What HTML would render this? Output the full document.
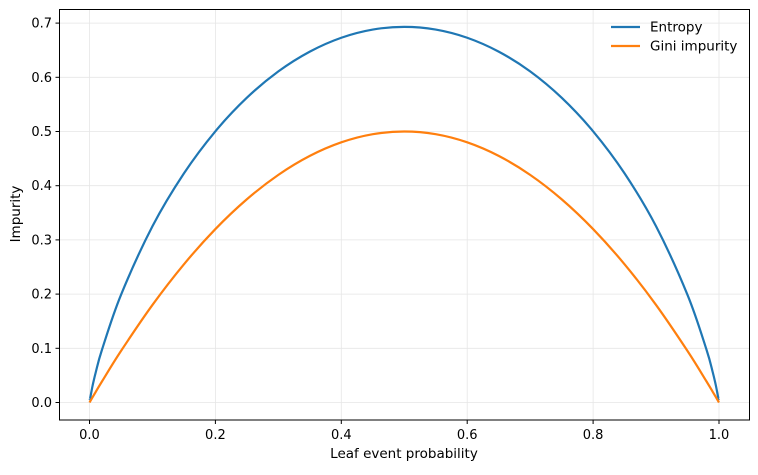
<!DOCTYPE html>
<html><head><meta charset="utf-8"><style>
body{margin:0;background:#fff;font-family:"Liberation Sans","DejaVu Sans",sans-serif;}
svg text{font-family:"DejaVu Sans","Liberation Sans",sans-serif;fill:#000}
</style></head><body>
<svg id="chart" width="758" height="470" xmlns="http://www.w3.org/2000/svg">
<g id="grid"></g>
<g id="series"></g>
<rect x="59.5" y="9.5" width="690" height="410.5" fill="none" stroke="#000" stroke-width="1"/>
<g id="ticks"></g>
<text x="404" y="458" font-size="13.5" text-anchor="middle">Leaf event probability</text>
<text transform="translate(20,214) rotate(-90)" font-size="13.5" text-anchor="middle">Impurity</text>
<g>
<line x1="611" y1="27" x2="640" y2="27" stroke="#1f77b4" stroke-width="2.2"/>
<text x="650" y="31.5" font-size="13.5">Entropy</text>
<line x1="611" y1="46" x2="640" y2="46" stroke="#ff7f0e" stroke-width="2.2"/>
<text x="650" y="50.5" font-size="13.5">Gini impurity</text>
</g>
</svg>
<script>
const probs=[0,0.001,0.005,0.01,0.02,0.05,0.1,0.15,0.2,0.25,0.3,0.35,0.4,0.45,0.5,0.55,0.6,0.65,0.7,0.75,0.8,0.85,0.9,0.95,0.98,0.99,0.995,0.999,1];
const entropy=[0.0079,0.0079,0.0315,0.056,0.098,0.1985,0.3251,0.4227,0.5004,0.5623,0.6109,0.6474,0.673,0.6881,0.6931,0.6881,0.673,0.6474,0.6109,0.5623,0.5004,0.4227,0.3251,0.1985,0.098,0.056,0.0315,0.0079,0.0079];
const gini=[0,0.002,0.00995,0.0198,0.0392,0.095,0.18,0.255,0.32,0.375,0.42,0.455,0.48,0.495,0.5,0.495,0.48,0.455,0.42,0.375,0.32,0.255,0.18,0.095,0.0392,0.0198,0.00995,0.002,0];
const xTicks=[0,0.2,0.4,0.6,0.8,1.0];
const xTickLabels=["0.0","0.2","0.4","0.6","0.8","1.0"];
const yTicks=[0,0.1,0.2,0.3,0.4,0.5,0.6,0.7];
const yTickLabels=["0.0","0.1","0.2","0.3","0.4","0.5","0.6","0.7"];
const NS="http://www.w3.org/2000/svg";
const X=v=>89.5+v*629.5, Y=v=>402.5-v*542;
function mk(t,a,p){const e=document.createElementNS(NS,t);for(const k in a)e.setAttribute(k,a[k]);p.appendChild(e);return e;}
const g=document.getElementById('grid'),tk=document.getElementById('ticks'),s=document.getElementById('series');
xTicks.forEach((v,i)=>{
 const l=mk('line',{x1:X(v),x2:X(v),y1:9.5,y2:420,stroke:'#e6e6e6','stroke-width':0.8},g);
 
 
 const t=mk('line',{x1:X(v),x2:X(v),y1:420,y2:424,stroke:'#000'},tk);
 
 
 const tx=mk('text',{x:X(v),y:439,'font-size':13,'text-anchor':'middle'},tk);tx.textContent=xTickLabels[i];
 
 
});
yTicks.forEach((v,i)=>{
 const l=mk('line',{x1:59.5,x2:749.5,y1:Y(v),y2:Y(v),stroke:'#e6e6e6','stroke-width':0.8},g);
 
 
 const t=mk('line',{x1:55.5,x2:59.5,y1:Y(v),y2:Y(v),stroke:'#000'},tk);
 
 
 const tx=mk('text',{x:52,y:Y(v)+4.5,'font-size':13,'text-anchor':'end'},tk);tx.textContent=yTickLabels[i];
 
 
});
function path(vals){
 const p=probs.map((x,i)=>[X(x),Y(vals[i])]);
 let d='M'+p[0][0]+','+p[0][1];
 for(let i=0;i<p.length-1;i++){
  const p0=p[Math.max(0,i-1)],p1=p[i],p2=p[i+1],p3=p[Math.min(p.length-1,i+2)];
  const c1=[p1[0]+(p2[0]-p0[0])/6,p1[1]+(p2[1]-p0[1])/6],c2=[p2[0]-(p3[0]-p1[0])/6,p2[1]-(p3[1]-p1[1])/6];
  d+=` C${c1[0]},${c1[1]} ${c2[0]},${c2[1]} ${p2[0]},${p2[1]}`;
 }
 return d;
}
const e=mk('path',{d:path(entropy),fill:'none',stroke:'#1f77b4','stroke-width':2.2},s);


const gi=mk('path',{d:path(gini),fill:'none',stroke:'#ff7f0e','stroke-width':2.2},s);


</script>
</body></html>
